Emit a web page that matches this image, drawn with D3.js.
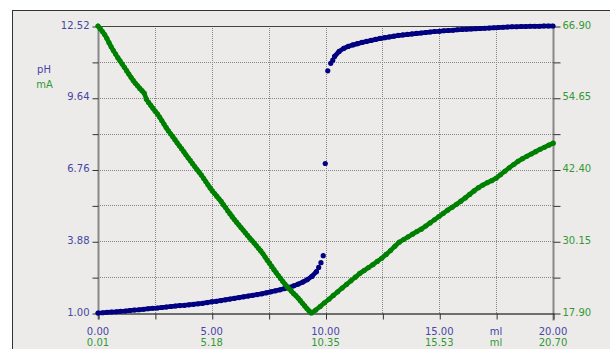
<!DOCTYPE html>
<html>
<head>
<meta charset="utf-8">
<script src="https://cdn.jsdelivr.net/npm/d3@7"></script>
<style>
  body { margin: 0; background: #fff; }
  svg text { font-family: "DejaVu Sans", sans-serif; font-size: 10px; }
</style>
</head>
<body>
<div id="chart"></div>
<script>
// pH curve (blue), volume in ml
const phLowStart = 0, phLowStep = 0.2;
const phLow = [1.00, 1.01, 1.03, 1.04, 1.05, 1.07, 1.08, 1.10, 1.12, 1.13,
  1.15, 1.17, 1.19, 1.20, 1.22, 1.24, 1.26, 1.28, 1.30, 1.31,
  1.33, 1.35, 1.37, 1.39, 1.42, 1.45, 1.47, 1.50, 1.53, 1.56,
  1.59, 1.62, 1.65, 1.68, 1.71, 1.74, 1.77, 1.81, 1.85, 1.89,
  1.93, 1.98, 2.03, 2.09, 2.16, 2.24, 2.34, 2.47, 2.66];
// points around the equivalence jump
const phJumpVol = [9.70, 9.80, 9.90, 9.99, 10.10, 10.23, 10.32];
const phJump = [2.83, 3.02, 3.30, 7.00, 10.72, 11.02, 11.15];
const phHighStart = 10.4, phHighStep = 0.2;
const phHigh = [11.30, 11.50, 11.62, 11.70, 11.76, 11.81, 11.86, 11.90, 11.94, 11.98,
  12.02, 12.05, 12.08, 12.11, 12.14, 12.16, 12.18, 12.20, 12.22, 12.24,
  12.26, 12.28, 12.30, 12.31, 12.33, 12.34, 12.35, 12.37, 12.38, 12.39,
  12.40, 12.41, 12.42, 12.43, 12.44, 12.45, 12.46, 12.47, 12.48, 12.49,
  12.49, 12.50, 12.50, 12.51, 12.51, 12.51, 12.52, 12.52, 12.52];

// current curve (green), on its own volume axis
const maDownStart = 0.01, maDownStep = 0.1;
const maDown = [66.90, 66.45, 65.95, 65.45, 64.80, 64.05, 63.35, 62.70, 62.10, 61.50,
  60.95, 60.40, 59.85, 59.28, 58.70, 58.15, 57.60, 57.12, 56.68, 56.25,
  55.85, 55.45, 54.40, 53.85, 53.35, 52.85, 52.35, 51.90, 51.35, 50.75,
  50.15, 49.55, 49.00, 48.50, 48.00, 47.50, 46.95, 46.45, 45.95, 45.45,
  44.90, 44.40, 43.90, 43.40, 42.90, 42.40, 41.95, 41.45, 40.90, 40.35,
  39.80, 39.25, 38.75, 38.30, 37.85, 37.40, 36.95, 36.40, 35.90, 35.35,
  34.85, 34.35, 33.85, 33.40, 32.95, 32.50, 32.05, 31.60, 31.15, 30.70,
  30.28, 29.85, 29.40, 28.95, 28.50, 28.00, 27.45, 26.90, 26.40, 25.85,
  25.30, 24.80, 24.30, 23.80, 23.30, 22.85, 22.40, 22.00, 21.60, 21.20,
  20.85, 20.45, 20.00, 19.55, 19.10, 18.65, 18.25, 17.90];
const maUpStart = 9.91, maUpStep = 0.2;
const maUp = [18.40, 19.00, 19.65, 20.25, 20.90, 21.52, 22.15, 22.78, 23.40, 24.02,
  24.65, 25.15, 25.65, 26.15, 26.70, 27.25, 27.90, 28.55, 29.30, 30.00,
  30.45, 30.90, 31.35, 31.80, 32.22, 32.75, 33.28, 33.82, 34.37, 34.92,
  35.45, 35.95, 36.45, 37.00, 37.55, 38.15, 38.75, 39.30, 39.75, 40.15,
  40.50, 40.90, 41.50, 42.10, 42.70, 43.25, 43.80, 44.25, 44.65, 45.05,
  45.45, 45.85, 46.20, 46.55, 46.90];

// axes
const phTicks = [1.00, 2.44, 3.88, 5.32, 6.76, 8.20, 9.64, 11.08, 12.52];
const phLabels = ["1.00", "", "3.88", "", "6.76", "", "9.64", "", "12.52"];
const maTicks = [17.90, 24.025, 30.15, 36.275, 42.40, 48.525, 54.65, 60.775, 66.90];
const maLabels = ["17.90", "", "30.15", "", "42.40", "", "54.65", "", "66.90"];
const volTicks = [0, 2.5, 5, 7.5, 10, 12.5, 15, 17.5, 20];
const volLabels = ["0.00", "", "5.00", "", "10.00", "", "15.00", "ml", "20.00"];
const volGreenLabels = ["0.01", "", "5.18", "", "10.35", "", "15.53", "ml", "20.70"];

const width = 610, height = 349;
const plotL = 98, plotR = 553, plotT = 26, plotB = 313;
const blue = "#000080", green = "#008000";
const blueText = "#4646a4", greenText = "#349834";

const svg = d3.select("#chart").append("svg")
  .attr("width", width).attr("height", height);

svg.append("rect").attr("x", 12.5).attr("y", 10.5)
  .attr("width", width).attr("height", height)
  .attr("fill", "#ecebea").attr("stroke", "#333");

const x = d3.scaleLinear().domain([0, 20]).range([plotL, plotR]);
const xg = d3.scaleLinear().domain([0.01, 20.70]).range([plotL, plotR]);
const y = d3.scaleLinear().domain([1, 12.52]).range([plotB, plotT]);
const yg = d3.scaleLinear().domain([17.90, 66.90]).range([plotB, plotT]);

// dotted grid
const grid = svg.append("g").attr("stroke", "#888").attr("stroke-dasharray", "1,1");
grid.selectAll("line.h").data(phTicks.slice(1, -1)).enter().append("line")
  .attr("x1", plotL).attr("x2", plotR)
  .attr("y1", d => Math.round(y(d)) + 0.5).attr("y2", d => Math.round(y(d)) + 0.5);
grid.selectAll("line.v").data(volTicks.slice(1, -1)).enter().append("line")
  .attr("y1", plotT).attr("y2", plotB)
  .attr("x1", d => Math.round(x(d)) + 0.5).attr("x2", d => Math.round(x(d)) + 0.5);

// frame line along the top
svg.append("line").attr("x1", plotL).attr("x2", plotR).attr("y1", plotT + 0.5).attr("y2", plotT + 0.5)
  .attr("stroke", "#444");

const leftAxis = svg.append("g").attr("transform", `translate(${plotL + 0.5},0.5)`)
  .call(d3.axisLeft(y).tickValues(phTicks).tickSizeInner(6).tickSizeOuter(0).tickPadding(3)
    .tickFormat((d, i) => phLabels[i]));
leftAxis.select(".domain").attr("stroke", "#888").attr("stroke-width", 2)
  .attr("d", `M0,${plotT}V${plotB + 6}`);

const rightAxis = svg.append("g").attr("transform", `translate(${plotR + 0.5},0.5)`)
  .call(d3.axisRight(yg).tickValues(maTicks).tickSizeInner(7).tickSizeOuter(0).tickPadding(2)
    .tickFormat((d, i) => maLabels[i]));
rightAxis.select(".domain").attr("stroke", "#888").attr("stroke-width", 2)
  .attr("d", `M0,${plotT}V${plotB + 7}`);

const bottomAxis = svg.append("g").attr("transform", `translate(0.5,${plotB + 0.5})`)
  .call(d3.axisBottom(x).tickValues(volTicks).tickSizeInner(6).tickSizeOuter(0).tickFormat(""));
bottomAxis.select(".domain").attr("stroke", "#444").attr("stroke-width", 1.5);

svg.selectAll(".tick line").attr("stroke", "#333");
leftAxis.selectAll("text").attr("fill", blueText).attr("dy", "0.15em")
  .style("font-size", "10px").style("font-family", "DejaVu Sans");
rightAxis.selectAll("text").attr("fill", greenText).attr("dy", "0.15em")
  .style("font-size", "10px").style("font-family", "DejaVu Sans");

svg.append("g").selectAll("text").data(volTicks).enter().append("text")
  .attr("x", d => x(d)).attr("y", 334.5).attr("text-anchor", "middle")
  .attr("fill", blueText).text((d, i) => volLabels[i]);
svg.append("g").selectAll("text").data(volTicks).enter().append("text")
  .attr("x", d => x(d)).attr("y", 345.5).attr("text-anchor", "middle")
  .attr("fill", greenText).text((d, i) => volGreenLabels[i]);

svg.append("text").attr("x", 44).attr("y", 73).attr("text-anchor", "middle")
  .attr("fill", blueText).text("pH");
svg.append("text").attr("x", 44.5).attr("y", 87.5).attr("text-anchor", "middle")
  .attr("fill", greenText).text("mA");

// series points
const phLowPts = phLow.map((v, i) => [phLowStart + i * phLowStep, v]);
const phJumpPts = phJump.map((v, i) => [phJumpVol[i], v]);
const phHighPts = phHigh.map((v, i) => [phHighStart + i * phHighStep, v]);
const maPoints = maDown.map((v, i) => [maDownStart + i * maDownStep, v])
  .concat(maUp.map((v, i) => [maUpStart + i * maUpStep, v]));

// dense readings blend into a thick trace; the sparse jump points stay separate
const phLine = d3.line().x(d => x(d[0])).y(d => y(d[1]));
const maLine = d3.line().x(d => xg(d[0])).y(d => yg(d[1]));
svg.append("g").attr("fill", "none").attr("stroke", blue).attr("stroke-width", 4.6)
    .attr("stroke-linejoin", "round").attr("stroke-linecap", "round")
  .selectAll("path").data([phLowPts, phHighPts]).enter().append("path").attr("d", phLine);

svg.append("g").attr("fill", blue).selectAll("circle")
  .data(phLowPts.concat(phJumpPts, phHighPts)).enter().append("circle")
  .attr("cx", d => x(d[0])).attr("cy", d => y(d[1])).attr("r", 2.6);

svg.append("path").datum(maPoints).attr("d", maLine).attr("fill", "none")
  .attr("stroke", green).attr("stroke-width", 4.6)
  .attr("stroke-linejoin", "round").attr("stroke-linecap", "round");
svg.append("g").attr("fill", green).selectAll("circle").data(maPoints).enter().append("circle")
  .attr("cx", d => xg(d[0])).attr("cy", d => yg(d[1])).attr("r", 2.6);
</script>
</body>
</html>
